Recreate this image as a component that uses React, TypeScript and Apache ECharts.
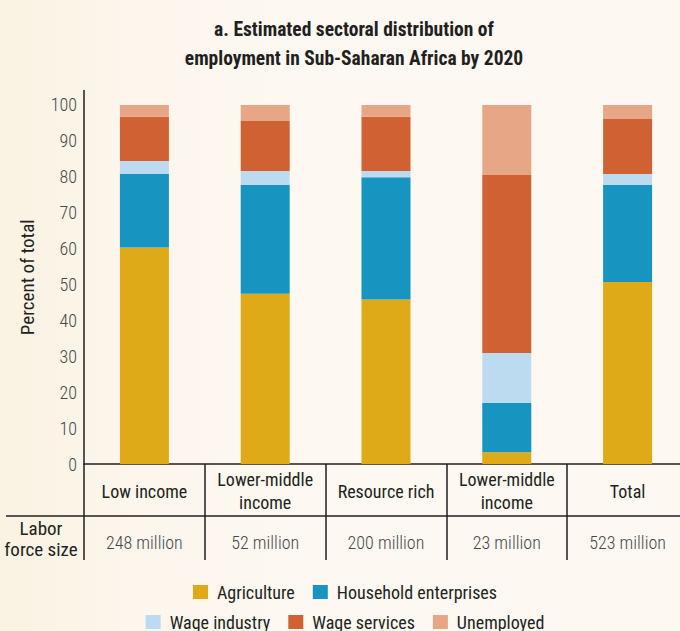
import React, { useEffect, useRef } from "react";
import * as echarts from "echarts";

const categories = ["Low income", "Lower-middle\nincome", "Resource rich", "Lower-middle\nincome", "Total"];
const laborForce = ["248 million", "52 million", "200 million", "23 million", "523 million"];
const agriculture = [60.3, 47.4, 45.8, 3.3, 50.7];
const household = [20.5, 30.3, 34.1, 13.7, 27.0];
const wageIndustry = [3.6, 3.9, 1.7, 13.9, 3.1];
const wageServices = [12.3, 13.9, 15.1, 49.6, 15.3];
const unemployed = [3.3, 4.5, 3.3, 19.5, 3.9];
const yTicks = { min: 0, max: 104, interval: 10 };

const FONT = '"Roboto Condensed", "DejaVu Sans Condensed", sans-serif';
const DARK = "#231F20";

export default function App() {
  const ref = useRef<HTMLDivElement>(null);
  useEffect(() => {
    if (!ref.current) return;
    const chart = echarts.init(ref.current, undefined, { renderer: "svg" });
    const mk = (name: string, data: number[], color: string) => ({
      name,
      type: "bar",
      stack: "total",
      barWidth: 49,
      data,
      itemStyle: { color },
      emphasis: { disabled: true },
    });
    const legendText = { fontFamily: FONT, fontSize: 18, color: DARK, padding: [0, 0, 0, 4] };
    chart.setOption({
      animation: false,
      backgroundColor: "transparent",
      textStyle: { fontFamily: FONT },
      title: {
        text: "a. Estimated sectoral distribution of\nemployment in Sub-Saharan Africa by 2020",
        left: 349,
        textAlign: "center",
        top: 10,
        textStyle: { fontFamily: FONT, fontSize: 19.5, fontWeight: "bold", color: DARK, lineHeight: 29 },
      },
      legend: [
        {
          data: ["Agriculture", "Household enterprises"],
          top: 578,
          left: "center",
          itemWidth: 15,
          itemHeight: 14,
          itemGap: 18,
          icon: "rect",
          textStyle: legendText,
        },
        {
          data: ["Wage industry", "Wage services", "Unemployed"],
          top: 608,
          left: "center",
          itemWidth: 15,
          itemHeight: 14,
          itemGap: 18,
          icon: "rect",
          textStyle: legendText,
        },
      ],
      grid: { left: 84, right: 2, top: 90.6, bottom: 167, containLabel: false },
      xAxis: [
        {
          type: "category",
          data: categories,
          position: "bottom",
          axisLine: { show: true, lineStyle: { color: DARK, width: 1.5 } },
          axisTick: { show: true, length: 96, interval: 0, lineStyle: { color: DARK, width: 1.5 } },
          axisLabel: {
            interval: 0,
            margin: 27,
            verticalAlign: "middle",
            fontFamily: FONT,
            fontSize: 18,
            lineHeight: 23,
            color: DARK,
          },
        },
        {
          type: "category",
          data: laborForce,
          position: "bottom",
          offset: 52,
          axisLine: { show: false },
          axisTick: { show: false },
          axisLabel: {
            interval: 0,
            margin: 26,
            verticalAlign: "middle",
            fontFamily: FONT,
            fontSize: 18,
            fontWeight: 300,
            color: "#4a4647",
          },
        },
      ],
      yAxis: {
        type: "value",
        min: yTicks.min,
        max: yTicks.max,
        interval: yTicks.interval,
        name: "Percent of total",
        nameLocation: "middle",
        nameRotate: 90,
        nameGap: 47,
        nameTextStyle: { fontFamily: FONT, fontSize: 19, color: DARK },
        axisLine: { show: true, lineStyle: { color: DARK, width: 1.5 } },
        axisTick: { show: false },
        splitLine: { show: false },
        axisLabel: {
          margin: 7,
          fontFamily: FONT,
          fontSize: 18,
          fontWeight: 300,
          color: "#4a4647",
          formatter: (v: number) => (v > 100 ? "" : String(v)),
        },
      },
      graphic: [
        {
          type: "line",
          shape: { x1: 6, y1: 516, x2: 690, y2: 516 },
          style: { stroke: DARK, lineWidth: 1.5 },
          silent: true,
        },
        {
          type: "text",
          x: 41,
          y: 539,
          style: {
            text: "Labor\nforce size",
            fontFamily: FONT,
            fontSize: 19,
            lineHeight: 21,
            fill: DARK,
            align: "center",
            verticalAlign: "middle",
          },
          silent: true,
        },
      ],
      series: [
        mk("Agriculture", agriculture, "#DFAA17"),
        mk("Household enterprises", household, "#1795C0"),
        mk("Wage industry", wageIndustry, "#BCDAF0"),
        mk("Wage services", wageServices, "#D06132"),
        mk("Unemployed", unemployed, "#E7A685"),
      ],
    });
    return () => chart.dispose();
  }, []);
  return (
    <div
      style={{
        position: "fixed",
        left: 0,
        top: 0,
        width: 680,
        height: 631,
        overflow: "hidden",
        background: "linear-gradient(90deg, #FAF2E2 0%, #FCF6ED 20%, #FDF8F1 45%, #FDF8F2 100%)",
      }}
    >
      <div ref={ref} style={{ width: 690, height: 631 }} />
    </div>
  );
}
